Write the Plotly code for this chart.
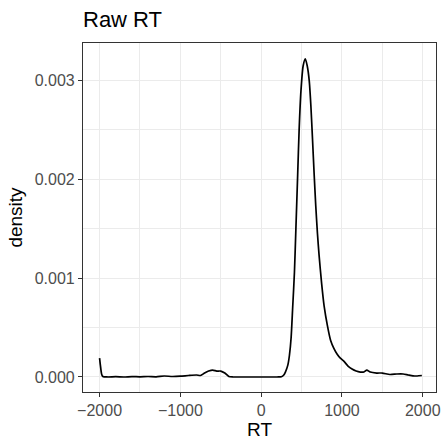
import plotly.graph_objects as go

rt = [-2000, -1990, -1975, -1960, -1900, -1800, -1700, -1600, -1500, -1400, -1300, -1200,
      -1100, -1000, -900, -800, -750, -700, -650, -600, -550, -500, -450, -400, -350, -300,
      0, 200, 250, 280, 300, 330, 350, 371, 390, 412, 430, 452, 470, 493, 520, 546, 570,
      595, 615, 636, 656, 676, 697, 717, 748, 779, 820, 860, 900, 941, 980, 1023, 1075,
      1125, 1175, 1227, 1270, 1308, 1350, 1430, 1500, 1593, 1680, 1757, 1820, 1879, 1930, 1989]
density = [0.00019, 0.00012, 0.00003, 0.000005, 0.0, 0.000003, 0.0, 0.000004, 0.000002,
           0.000005, 0.000002, 0.00001, 0.000005, 0.000008, 0.000015, 0.00002, 0.000015,
           0.00004, 0.00006, 0.00007, 0.00006, 0.00006, 0.00004, 0.000005, 0.0, 0.0,
           0.0, 0.0, 0.000003, 0.00002, 0.00005, 0.00012, 0.00022, 0.0004, 0.0007, 0.00106,
           0.0015, 0.00205, 0.0025, 0.0029, 0.00315, 0.00322, 0.00315, 0.003, 0.00275,
           0.0024, 0.00205, 0.00173, 0.00145, 0.00123, 0.00095, 0.00072, 0.00052, 0.00037,
           0.00029, 0.00023, 0.00019, 0.00016, 0.00011, 0.00008, 0.00006, 0.00005, 0.00005,
           0.00007, 0.00005, 0.00004, 0.00004, 0.000025, 0.00003, 0.00003, 0.00002,
           0.000012, 0.00001, 0.000015]

x_ticks = [-2000, -1000, 0, 1000, 2000]
x_labels = ["\u22122000", "\u22121000", "0", "1000", "2000"]
y_ticks = [0, 0.001, 0.002, 0.003]
y_labels = ["0.000", "0.001", "0.002", "0.003"]

fig = go.Figure()
fig.add_trace(go.Scatter(x=rt, y=density, mode="lines",
                         line=dict(color="black", width=1.7, shape="spline", smoothing=0.6),
                         showlegend=False, hoverinfo="skip"))

font = "Liberation Sans, Arial, sans-serif"
axis_common = dict(
    showline=True, linecolor="#333333", linewidth=1.1, mirror=True,
    ticks="outside", ticklen=4, tickcolor="#333333", tickwidth=1.1,
    gridcolor="#ebebeb", gridwidth=1.1, zeroline=False,
    tickfont=dict(family=font, size=16, color="#4d4d4d"),
)

fig.update_layout(
    width=446, height=440,
    margin=dict(l=83, r=6, t=43, b=47),
    paper_bgcolor="white", plot_bgcolor="white",
    title=dict(text="Raw RT", x=83/446, xanchor="left", xref="container",
               y=1 - 19/440, yanchor="middle", yref="container",
               font=dict(family=font, size=22, color="black")),
    xaxis=dict(range=[-2205, 2164], tickvals=x_ticks, ticktext=x_labels,
               title=dict(text="RT", font=dict(family=font, size=19, color="black"), standoff=1),
               minor=dict(tickvals=[-1500, -500, 500, 1500], showgrid=True,
                          gridcolor="#ebebeb", gridwidth=0.55, ticks=""),
               **axis_common),
    yaxis=dict(range=[-0.000152, 0.00338], tickvals=y_ticks, ticktext=y_labels,
               title=dict(text="density", font=dict(family=font, size=19, color="black"), standoff=7),
               minor=dict(tickvals=[0.0005, 0.0015, 0.0025], showgrid=True,
                          gridcolor="#ebebeb", gridwidth=0.55, ticks=""),
               **axis_common),
)

fig.write_html("out.html")
